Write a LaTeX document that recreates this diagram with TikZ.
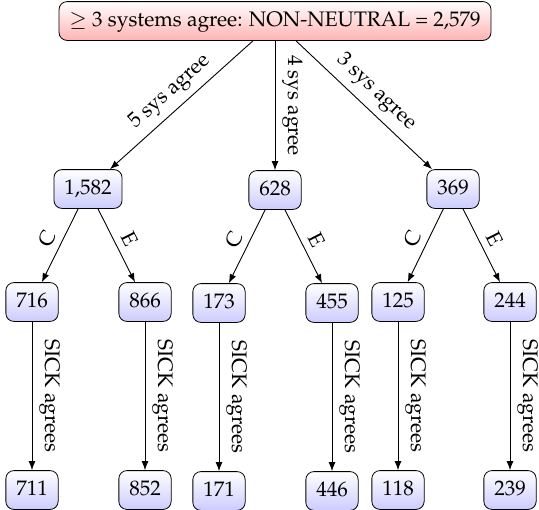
\documentclass[tikz,border=0pt]{standalone}
\usepackage[T1]{fontenc}
\usepackage{mathpazo}
\usetikzlibrary{arrows.meta}

\tikzset{
  box/.style={draw, rounded corners=4pt, inner xsep=5.2pt, inner ysep=5.2pt,
    text height=7.4pt, text depth=1.6pt, top color=white, bottom color=blue!20},
  rootbox/.style={box, bottom color=red!30},
  arr/.style={-{Latex[length=4.5pt,width=3.4pt]}, line width=0.45pt},
  vlab/.style={midway, rotate=-90, anchor=south},
  slab/.style={midway, sloped, above}
}

\begin{document}
\begin{tikzpicture}[x=0.5pt, y=-0.5pt, font=\fontsize{10.5}{12.6}\selectfont]
\useasboundingbox (0,0) rectangle (539,509);

% root
\node[rootbox] (root) at (275,21) {$\geq$ 3 systems agree: NON-NEUTRAL = 2,579};

% first level: number of agreeing systems
\node[box] (s5) at (88,189) {1,582};
\node[box] (s4) at (275,190) {628};
\node[box] (s3) at (453,189) {369};

% second level: C / E split
\node[box] (s5c) at (32,302) {716};
\node[box] (s5e) at (145,302) {866};
\node[box] (s4c) at (219,303) {173};
\node[box] (s4e) at (332,303) {455};
\node[box] (s3c) at (398,302) {125};
\node[box] (s3e) at (510,302) {244};

% third level: SICK agrees
\node[box] (s5cs) at (32,490) {711};
\node[box] (s5es) at (145,490) {852};
\node[box] (s4cs) at (219,491) {171};
\node[box] (s4es) at (332,491) {446};
\node[box] (s3cs) at (398,490) {118};
\node[box] (s3es) at (510,490) {239};

% edges
\draw[arr] (root) -- node[slab] {5 sys agree} (s5);
\draw[arr] (root) -- node[vlab] {4 sys agree} (s4);
\draw[arr] (root) -- node[slab] {3 sys agree} (s3);

\draw[arr] (s5) -- node[slab] {C} (s5c);
\draw[arr] (s5) -- node[slab] {E} (s5e);
\draw[arr] (s4) -- node[slab] {C} (s4c);
\draw[arr] (s4) -- node[slab] {E} (s4e);
\draw[arr] (s3) -- node[slab] {C} (s3c);
\draw[arr] (s3) -- node[slab] {E} (s3e);

\draw[arr] (s5c) -- node[vlab] {SICK agrees} (s5cs);
\draw[arr] (s5e) -- node[vlab] {SICK agrees} (s5es);
\draw[arr] (s4c) -- node[vlab] {SICK agrees} (s4cs);
\draw[arr] (s4e) -- node[vlab] {SICK agrees} (s4es);
\draw[arr] (s3c) -- node[vlab] {SICK agrees} (s3cs);
\draw[arr] (s3e) -- node[vlab] {SICK agrees} (s3es);
\end{tikzpicture}
\end{document}
